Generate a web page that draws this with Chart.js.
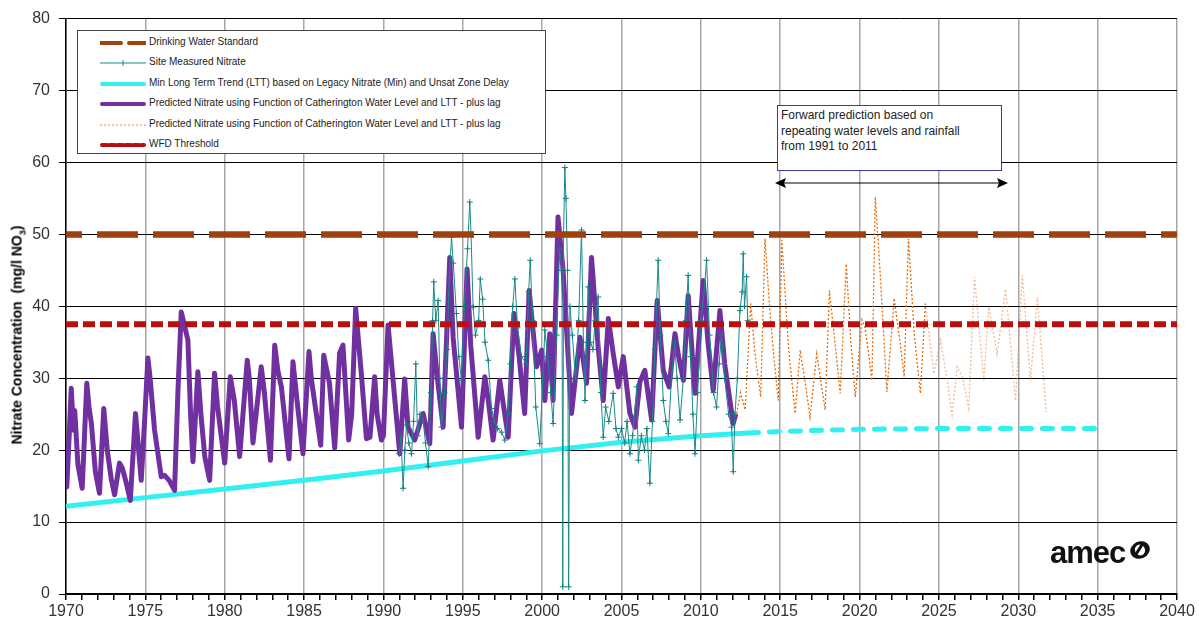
<!DOCTYPE html>
<html>
<head>
<meta charset="utf-8">
<script src="https://cdn.jsdelivr.net/npm/chart.js@4.4.1/dist/chart.umd.min.js"></script>
<style>
  body { margin: 0; background: #fff; font-family: "Liberation Sans", Arial, sans-serif; }
  #wrap { position: relative; width: 1199px; height: 624px; overflow: hidden; }
  #chart { position: absolute; left: 0; top: 0; }
  .ytitle { position: absolute; left: 18px; top: 335px; transform: translate(-50%, -50%) rotate(-90deg);
            font-weight: bold; font-size: 14px; color: #000; white-space: nowrap; }
  .ytitle sub { font-size: 9px; }
  .legend { position: absolute; left: 77px; top: 30px; width: 467px; height: 122px;
            border: 1px solid #444; background: #fff; }
  .legend .row { position: absolute; left: 22px; height: 12px; font-size: 10px; color: #222; white-space: nowrap; }
  .legend svg { position: absolute; left: 0; top: 0; }
  .legend span { position: absolute; left: 49px; top: -1px; }
  .note { position: absolute; left: 777px; top: 105px; width: 225px; height: 66px;
          border: 1px solid #3b3ba8; background: #fff; font-size: 12px; line-height: 15.5px;
          color: #222; padding: 2px 0 0 3px; box-sizing: border-box; }
  .arrow { position: absolute; left: 770px; top: 174px; }
  .logo { position: absolute; left: 1050px; top: 535px; font-weight: bold; font-size: 31px;
          letter-spacing: -1px; color: #111; }
  .logo svg { position: absolute; left: 78px; top: 4px; }
</style>
</head>
<body>
<div id="wrap">
  <canvas id="chart" width="1199" height="624"></canvas>
  <div class="ytitle">Nitrate Concentration&nbsp; (mg/l NO<sub>3</sub>)</div>

  <div class="legend">
    <div class="row" style="top:6px">
      <svg width="46" height="12"><line x1="0" y1="6" x2="46" y2="6" stroke="#a0410d" stroke-width="4" stroke-dasharray="21 8" stroke-linecap="round"/></svg>
      <span>Drinking Water Standard</span>
    </div>
    <div class="row" style="top:26px">
      <svg width="46" height="12"><line x1="0" y1="6" x2="46" y2="6" stroke="#1a8a8a" stroke-width="1"/><line x1="23" y1="3" x2="23" y2="9" stroke="#1a8a8a" stroke-width="1"/></svg>
      <span>Site Measured Nitrate</span>
    </div>
    <div class="row" style="top:47px">
      <svg width="46" height="12"><line x1="2" y1="6" x2="44" y2="6" stroke="#33f0f0" stroke-width="4" stroke-linecap="round"/></svg>
      <span>Min Long Term Trend (LTT) based on Legacy Nitrate (Min) and Unsat Zone Delay</span>
    </div>
    <div class="row" style="top:67px">
      <svg width="46" height="12"><line x1="2" y1="6" x2="44" y2="6" stroke="#7030a0" stroke-width="4" stroke-linecap="round"/></svg>
      <span>Predicted Nitrate using Function of Catherington Water Level and LTT - plus lag</span>
    </div>
    <div class="row" style="top:88px">
      <svg width="46" height="12"><line x1="0" y1="6" x2="46" y2="6" stroke="#e8883a" stroke-width="1" stroke-dasharray="2 2"/></svg>
      <span>Predicted Nitrate using Function of Catherington Water Level and LTT - plus lag</span>
    </div>
    <div class="row" style="top:108px">
      <svg width="46" height="12"><line x1="2" y1="6" x2="44" y2="6" stroke="#b80f0f" stroke-width="4" stroke-dasharray="5 3" stroke-linecap="round"/></svg>
      <span>WFD Threshold</span>
    </div>
  </div>

  <div class="note">Forward prediction based on<br>repeating water levels and rainfall<br>from 1991 to 2011</div>
  <svg class="arrow" width="246" height="20">
    <line x1="12" y1="9" x2="230" y2="9" stroke="#000" stroke-width="1.2"/>
    <polygon points="5,9 16,4 14,9 16,14" fill="#000"/>
    <polygon points="238,9 227,4 229,9 227,14" fill="#000"/>
  </svg>

  <div class="logo">amec
    <svg width="24" height="22" viewBox="0 0 24 22">
      <ellipse cx="12" cy="11" rx="10" ry="8.5" fill="#111" transform="rotate(-25 12 11)"/>
      <ellipse cx="12" cy="11" rx="5" ry="5.5" fill="#fff" transform="rotate(-25 12 11)"/>
      <line x1="7" y1="17" x2="15" y2="4" stroke="#111" stroke-width="3"/>
    </svg>
  </div>
</div>

<script>
// Drinking water standard and WFD threshold
const dwsYears = [1970, 2040];
const dwsValues = [50, 50];
const wfdYears = [1970, 2040];
const wfdValues = [37.5, 37.5];

// Min long term trend (solid to 2013, dashed after)
const lttYears = [1970, 1975, 1980, 1985, 1990, 1995, 2000, 2005, 2010, 2013, 2015, 2020, 2025, 2030, 2035.3];
const lttValues = [12.2, 13.4, 14.6, 15.8, 17.1, 18.5, 19.9, 21.1, 22.0, 22.4, 22.6, 22.9, 23.0, 23.0, 23.0];

// Predicted nitrate (purple)
const predYears = [
  1970.00, 1970.05, 1970.20, 1970.33, 1970.47, 1970.55, 1970.75, 1971.02, 1971.31, 1971.45,
  1971.60, 1971.85, 1972.11, 1972.38, 1972.60, 1972.85, 1973.06, 1973.37, 1973.55, 1973.80,
  1974.05, 1974.38, 1974.50, 1974.74, 1974.95, 1975.16, 1975.30, 1975.58, 1976.00, 1976.20,
  1976.50, 1976.84, 1977.05, 1977.26, 1977.45, 1977.68, 1977.85, 1978.00, 1978.31, 1978.50,
  1978.75, 1979.05, 1979.36, 1979.55, 1980.00, 1980.35, 1980.60, 1980.94, 1981.42, 1981.55,
  1981.78, 1982.30, 1982.50, 1982.88, 1983.15, 1983.35, 1983.57, 1984.05, 1984.30, 1984.55,
  1984.93, 1985.31, 1985.45, 1986.05, 1986.24, 1986.60, 1986.93, 1987.24, 1987.45, 1987.81,
  1988.00, 1988.25, 1988.61, 1988.93, 1989.15, 1989.45, 1989.60, 1989.87, 1990.00, 1990.29,
  1991.03, 1991.34, 1991.55, 1991.97, 1992.50, 1992.92, 1993.13, 1993.40, 1993.76, 1994.18,
  1994.39, 1994.92, 1995.27, 1995.50, 1995.97, 1996.39, 1996.60, 1996.91, 1997.33, 1997.86,
  1998.22, 1998.55, 1998.90, 1999.18, 1999.65, 1999.97, 2000.17, 2000.48, 2000.69, 2001.00,
  2001.32, 2001.85, 2002.38, 2002.80, 2003.11, 2003.53, 2003.85, 2004.17, 2004.48, 2004.80,
  2005.11, 2005.53, 2005.85, 2006.16, 2006.47, 2006.90, 2007.25, 2007.63, 2008.00, 2008.37,
  2008.60, 2008.90, 2009.20, 2009.63, 2010.15, 2010.45, 2010.78, 2011.20, 2011.50, 2012.04,
  2012.20
];
const predValues = [
  15.0, 14.9, 22.0, 28.6, 22.8, 25.5, 18.0, 14.7, 29.3, 26.0,
  23.7, 17.0, 14.0, 25.8, 20.0, 16.0, 13.8, 18.2, 17.5, 15.4,
  13.0, 25.1, 22.0, 15.8, 24.0, 32.8, 30.0, 22.8, 16.3, 16.5,
  15.8, 14.4, 28.0, 39.2, 37.5, 35.3, 25.0, 18.4, 30.9, 25.0,
  19.0, 15.8, 30.7, 26.0, 18.2, 30.2, 27.0, 19.1, 32.5, 30.0,
  21.0, 31.6, 28.0, 18.6, 34.6, 31.0, 28.8, 18.8, 32.3, 27.0,
  19.5, 33.7, 30.0, 20.7, 33.2, 29.3, 20.3, 33.5, 34.6, 21.4,
  25.0, 39.7, 30.6, 21.6, 21.8, 30.2, 25.0, 21.4, 22.0, 37.4,
  19.5, 29.9, 23.2, 21.4, 25.1, 20.9, 36.2, 30.0, 23.2, 46.8,
  35.7, 23.2, 45.2, 34.6, 21.8, 30.2, 27.0, 21.4, 29.7, 21.8,
  39.0, 33.0, 25.1, 42.2, 31.6, 33.9, 26.9, 36.2, 26.9, 52.4,
  45.0, 25.1, 35.7, 29.3, 46.8, 34.3, 26.9, 38.3, 33.4, 28.8,
  33.0, 25.1, 23.2, 29.5, 31.1, 24.2, 40.8, 31.1, 28.8, 36.2,
  33.0, 29.7, 41.5, 27.9, 43.6, 35.0, 28.3, 39.4, 32.0, 23.7,
  25.0
];

// Site measured nitrate (teal)
const measYears = [
  1991.00, 1991.10, 1991.24, 1991.35, 1991.45, 1991.60, 1991.77, 1991.90, 1992.04, 1992.15,
  1992.30, 1992.50, 1992.65, 1992.82, 1993.00, 1993.10, 1993.17, 1993.30, 1993.45, 1993.55,
  1993.66, 1993.85, 1994.00, 1994.15, 1994.29, 1994.40, 1994.60, 1994.75, 1994.92, 1995.10,
  1995.30, 1995.44, 1995.52, 1995.65, 1995.80, 1996.00, 1996.10, 1996.25, 1996.40, 1996.60,
  1996.81, 1997.00, 1997.20, 1997.45, 1997.65, 1997.85, 1998.00, 1998.15, 1998.28, 1998.45,
  1998.70, 1999.00, 1999.15, 1999.25, 1999.40, 1999.60, 1999.85, 2000.05, 2000.17, 2000.35,
  2000.55, 2000.69, 2000.90, 2001.10, 2001.25, 2001.30, 2001.35, 2001.43, 2001.50, 2001.60,
  2001.67, 2001.75, 2001.90, 2002.10, 2002.30, 2002.48, 2002.60, 2002.70, 2002.90, 2003.05,
  2003.20, 2003.35, 2003.53, 2003.70, 2003.85, 2004.00, 2004.20, 2004.48, 2004.65, 2004.80,
  2005.00, 2005.20, 2005.35, 2005.53, 2005.70, 2005.96, 2006.06, 2006.25, 2006.45, 2006.60,
  2006.79, 2006.95, 2007.10, 2007.31, 2007.45, 2007.63, 2007.80, 2007.95, 2008.15, 2008.35,
  2008.50, 2008.69, 2008.90, 2009.05, 2009.20, 2009.35, 2009.50, 2009.63, 2009.80, 2010.00,
  2010.20, 2010.36, 2010.55, 2010.80, 2010.99, 2011.15, 2011.30, 2011.50, 2011.75, 2011.94,
  2012.04, 2012.15, 2012.30, 2012.46, 2012.60, 2012.67, 2012.75, 2012.88, 2012.95
];
const measValues = [
  19.5, 22.0, 14.7, 20.0, 23.5, 21.0, 19.5, 24.0, 32.0, 22.0,
  25.0, 24.2, 21.0, 17.7, 28.0, 38.0, 43.4, 38.0, 40.8, 30.0,
  23.2, 28.0, 34.0, 44.0, 49.6, 46.0, 39.0, 33.0, 29.7, 40.0,
  48.0, 54.5, 50.0, 39.9, 36.0, 38.0, 43.8, 41.0, 35.0, 32.5,
  25.8, 24.0, 23.0, 22.5, 21.4, 25.0, 32.0, 40.0, 43.8, 37.0,
  33.0, 32.0, 42.0, 46.4, 38.0, 26.0, 20.9, 30.0, 36.7, 33.0,
  28.0, 23.7, 36.0, 48.0, 45.0, 1.0, 50.0, 59.3, 55.0, 45.0,
  1.0, 40.0, 36.0, 30.0, 38.0, 50.6, 35.0, 26.9, 42.7, 35.0,
  34.0, 38.0, 41.3, 28.0, 21.8, 26.0, 24.0, 27.9, 23.0, 21.8,
  23.0, 21.0, 24.0, 19.5, 22.0, 28.8, 18.6, 22.0, 20.0, 23.0,
  15.4, 24.0, 34.0, 46.4, 36.0, 26.9, 24.0, 22.3, 30.0, 35.0,
  30.0, 24.2, 30.0, 38.0, 44.3, 33.0, 25.0, 19.5, 28.0, 38.0,
  42.0, 46.4, 36.0, 28.0, 26.0, 32.0, 36.0, 30.0, 25.0, 23.2,
  17.0, 25.0, 30.0, 39.4, 42.0, 47.3, 40.0, 44.1, 38.0
];

// Forward prediction (orange dotted)
const fwdYears = [
  2012.26, 2012.50, 2012.79, 2013.14, 2013.41, 2013.77, 2014.04, 2014.36, 2014.60, 2014.88,
  2015.10, 2015.52, 2015.94, 2016.26, 2016.60, 2016.88, 2017.30, 2017.83, 2018.10, 2018.40,
  2018.78, 2019.16, 2019.45, 2019.73, 2020.15, 2020.35, 2020.78, 2020.99, 2021.30, 2021.72,
  2022.18, 2022.56, 2022.81, 2023.08, 2023.45, 2023.83, 2024.15, 2024.68, 2025.10, 2025.50,
  2025.83, 2026.15, 2026.50, 2026.88, 2027.24, 2027.83, 2028.14, 2028.67, 2029.20, 2029.83,
  2030.25, 2030.77, 2031.20, 2031.76
];
const fwdValues = [
  25.1, 28.0, 25.6, 40.4, 33.4, 27.4, 49.4, 39.0, 33.0, 26.9,
  49.2, 34.3, 25.1, 33.9, 29.0, 24.6, 33.4, 25.6, 42.2, 36.0,
  27.9, 45.9, 35.0, 27.4, 38.1, 37.0, 29.7, 55.2, 44.5, 28.1,
  41.1, 34.8, 30.2, 49.4, 36.0, 27.9, 40.4, 30.6, 35.3, 30.0,
  24.9, 31.6, 30.0, 25.8, 44.1, 29.7, 39.9, 33.4, 42.4, 26.9,
  44.3, 29.7, 41.3, 25.3
];

// Axis ticks
const yearTicks = [1970, 1975, 1980, 1985, 1990, 1995, 2000, 2005, 2010, 2015, 2020, 2025, 2030, 2035, 2040];
const concTicks = [0, 10, 20, 30, 40, 50, 60, 70, 80];

const toPoints = (xs, ys) => xs.map((x, i) => ({ x: x, y: ys[i] }));

const ctx = document.getElementById('chart').getContext('2d');
new Chart(ctx, {
    type: 'line',
    data: {
        datasets: [{
            label: 'WFD Threshold',
            data: toPoints(wfdYears, wfdValues),
            borderColor: '#b80f0f',
            borderWidth: 6,
            borderDash: [12, 5],
            pointRadius: 0
        }, {
            label: 'Drinking Water Standard',
            data: toPoints(dwsYears, dwsValues),
            borderColor: '#a0410d',
            borderWidth: 6.5,
            borderDash: [41, 15],
            borderDashOffset: 25,
            pointRadius: 0
        }, {
            label: 'Predicted Nitrate (forward)',
            data: toPoints(fwdYears, fwdValues),
            borderColor: '#e46c0a',
            borderWidth: 1.3,
            borderDash: [2, 2],
            pointRadius: 0,
            segment: {
                borderColor: c => c.p0.parsed.x >= 2024 ? 'rgba(232,140,80,0.6)' : '#e46c0a'
            }
        }, {
            label: 'Site Measured Nitrate',
            data: toPoints(measYears, measValues),
            borderColor: '#1a8a8a',
            borderWidth: 1,
            pointStyle: 'cross',
            pointRadius: 3,
            pointBorderWidth: 1,
            pointBorderColor: '#107f7f'
        }, {
            label: 'Predicted Nitrate',
            data: toPoints(predYears, predValues),
            borderColor: '#7030a0',
            borderWidth: 5,
            borderJoinStyle: 'round',
            pointRadius: 0
        }, {
            label: 'Min Long Term Trend',
            data: toPoints(lttYears, lttValues),
            borderColor: '#33f0f0',
            borderWidth: 5,
            borderCapStyle: 'round',
            pointRadius: 0,
            segment: {
                borderDash: c => c.p0.parsed.x >= 2013 ? [10, 11] : undefined
            }
        }]
    },
    options: {
        responsive: false,
        animation: false,
        devicePixelRatio: 1,
        layout: { padding: { left: 0, right: 22, top: 18, bottom: 0 } },
        plugins: {
            legend: { display: false },
            tooltip: { enabled: false }
        },
        scales: {
            x: {
                type: 'linear',
                min: 1970,
                max: 2040,
                afterFit: s => { s.height = 30; },
                afterBuildTicks: s => {
                    const t = [];
                    for (let v = 1970; v <= 2040; v++) t.push({ value: v });
                    s.ticks = t;
                },
                ticks: {
                    autoSkip: false,
                    maxRotation: 0,
                    padding: 2,
                    color: '#333',
                    font: { family: 'Liberation Sans', size: 16 },
                    callback: v => yearTicks.includes(v) ? String(v) : ''
                },
                grid: {
                    color: c => (c.tick && yearTicks.includes(c.tick.value)) ? '#a6a6a6' : 'rgba(0,0,0,0)',
                    lineWidth: 1.5,
                    tickColor: '#000',
                    tickLength: 6
                },
                border: { color: '#000', width: 1.5 }
            },
            y: {
                min: 0,
                max: 80,
                afterFit: s => { s.width = 66; },
                afterBuildTicks: s => { s.ticks = concTicks.map(v => ({ value: v })); },
                ticks: {
                    padding: 9,
                    color: '#333',
                    font: { family: 'Liberation Sans', size: 16 }
                },
                grid: {
                    color: '#000',
                    lineWidth: 1,
                    tickColor: '#000',
                    tickLength: 7
                },
                border: { color: '#000', width: 1.5 }
            }
        }
    }
});
</script>
</body>
</html>
